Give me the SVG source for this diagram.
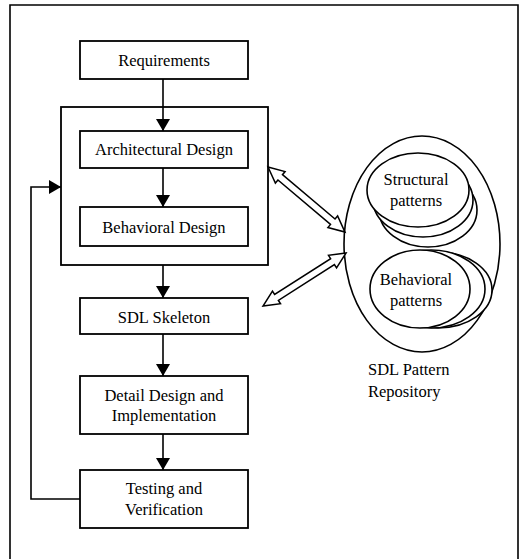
<svg xmlns="http://www.w3.org/2000/svg" width="520" height="559" viewBox="0 0 520 559">
<defs>
<style>
.box{fill:#fff;stroke:#000;stroke-width:1.8}
.ln{fill:none;stroke:#000;stroke-width:1.6}
.el{fill:#fff;stroke:#000;stroke-width:1.6}
.dbl{fill:#fff;stroke:#000;stroke-width:1.5;stroke-linejoin:miter}
text{font-family:"Liberation Serif","Times New Roman",serif;font-size:16.5px;fill:#000}
.c{text-anchor:middle}
</style>
<marker id="ah" viewBox="0 0 12 14" refX="12" refY="7" markerWidth="12" markerHeight="14" markerUnits="userSpaceOnUse" orient="auto">
<path d="M0,0 L12,7 L0,14 Z" fill="#000"/>
</marker>
</defs>
<rect width="520" height="559" fill="#fff"/>
<path class="ln" d="M10,559 V5 H518 V559" stroke-width="1.8"/>

<g id="design-group"><rect class="box" x="61" y="107" width="207" height="158"/></g>
<g id="requirements"><rect class="box" x="80" y="41" width="168" height="38"/><text class="c" x="164" y="66">Requirements</text></g>
<g id="architectural-design"><rect class="box" x="80" y="131" width="168" height="37"/><text class="c" x="164" y="155">Architectural Design</text></g>
<g id="behavioral-design"><rect class="box" x="80" y="207" width="168" height="39"/><text class="c" x="164" y="233">Behavioral Design</text></g>
<g id="sdl-skeleton"><rect class="box" x="80" y="298" width="168" height="36"/><text class="c" x="164" y="323">SDL Skeleton</text></g>
<g id="detail-design"><rect class="box" x="80" y="376" width="168" height="58"/><text class="c" x="164" y="401">Detail Design and</text><text class="c" x="164" y="421">Implementation</text></g>
<g id="testing"><rect class="box" x="80" y="470" width="168" height="58"/><text class="c" x="164" y="494">Testing and</text><text class="c" x="164" y="515">Verification</text></g>

<g id="repository">
<ellipse class="el" cx="422" cy="244" rx="78" ry="108"/>
<ellipse class="el" cx="428" cy="210" rx="49" ry="37"/>
<ellipse class="el" cx="423" cy="200" rx="50" ry="37"/>
<ellipse class="el" cx="418" cy="190" rx="51" ry="37"/>
<text class="c" x="416" y="185">Structural</text>
<text class="c" x="416" y="206">patterns</text>
<ellipse class="el" cx="438" cy="290" rx="54" ry="38"/>
<ellipse class="el" cx="431" cy="289" rx="54" ry="39"/>
<ellipse class="el" cx="420" cy="289" rx="50" ry="39"/>
<text class="c" x="416" y="285">Behavioral</text>
<text class="c" x="416" y="306">patterns</text>
<text x="368" y="375">SDL Pattern</text>
<text x="368" y="397">Repository</text>
</g>

<g id="connectors">
<line class="ln" x1="163" y1="79" x2="163" y2="131" marker-end="url(#ah)"/>
<line class="ln" x1="163" y1="168" x2="163" y2="207" marker-end="url(#ah)"/>
<line class="ln" x1="163" y1="265" x2="163" y2="298" marker-end="url(#ah)"/>
<line class="ln" x1="163" y1="334" x2="163" y2="376" marker-end="url(#ah)"/>
<line class="ln" x1="163" y1="434" x2="163" y2="470" marker-end="url(#ah)"/>
<polyline class="ln" points="80,499 31,499 31,187 61,187" marker-end="url(#ah)"/>
<polygon class="dbl" points="0,0 16,-7.5 16,-3.5 84.8,-3.5 84.8,-7.5 100.8,0 84.8,7.5 84.8,3.5 16,3.5 16,7.5" transform="translate(268,167) rotate(40.2)"/>
<polygon class="dbl" points="0,0 16,-7.5 16,-3.5 82.5,-3.5 82.5,-7.5 98.5,0 82.5,7.5 82.5,3.5 16,3.5 16,7.5" transform="translate(346,253) rotate(147.4)"/>
</g>
</svg>
